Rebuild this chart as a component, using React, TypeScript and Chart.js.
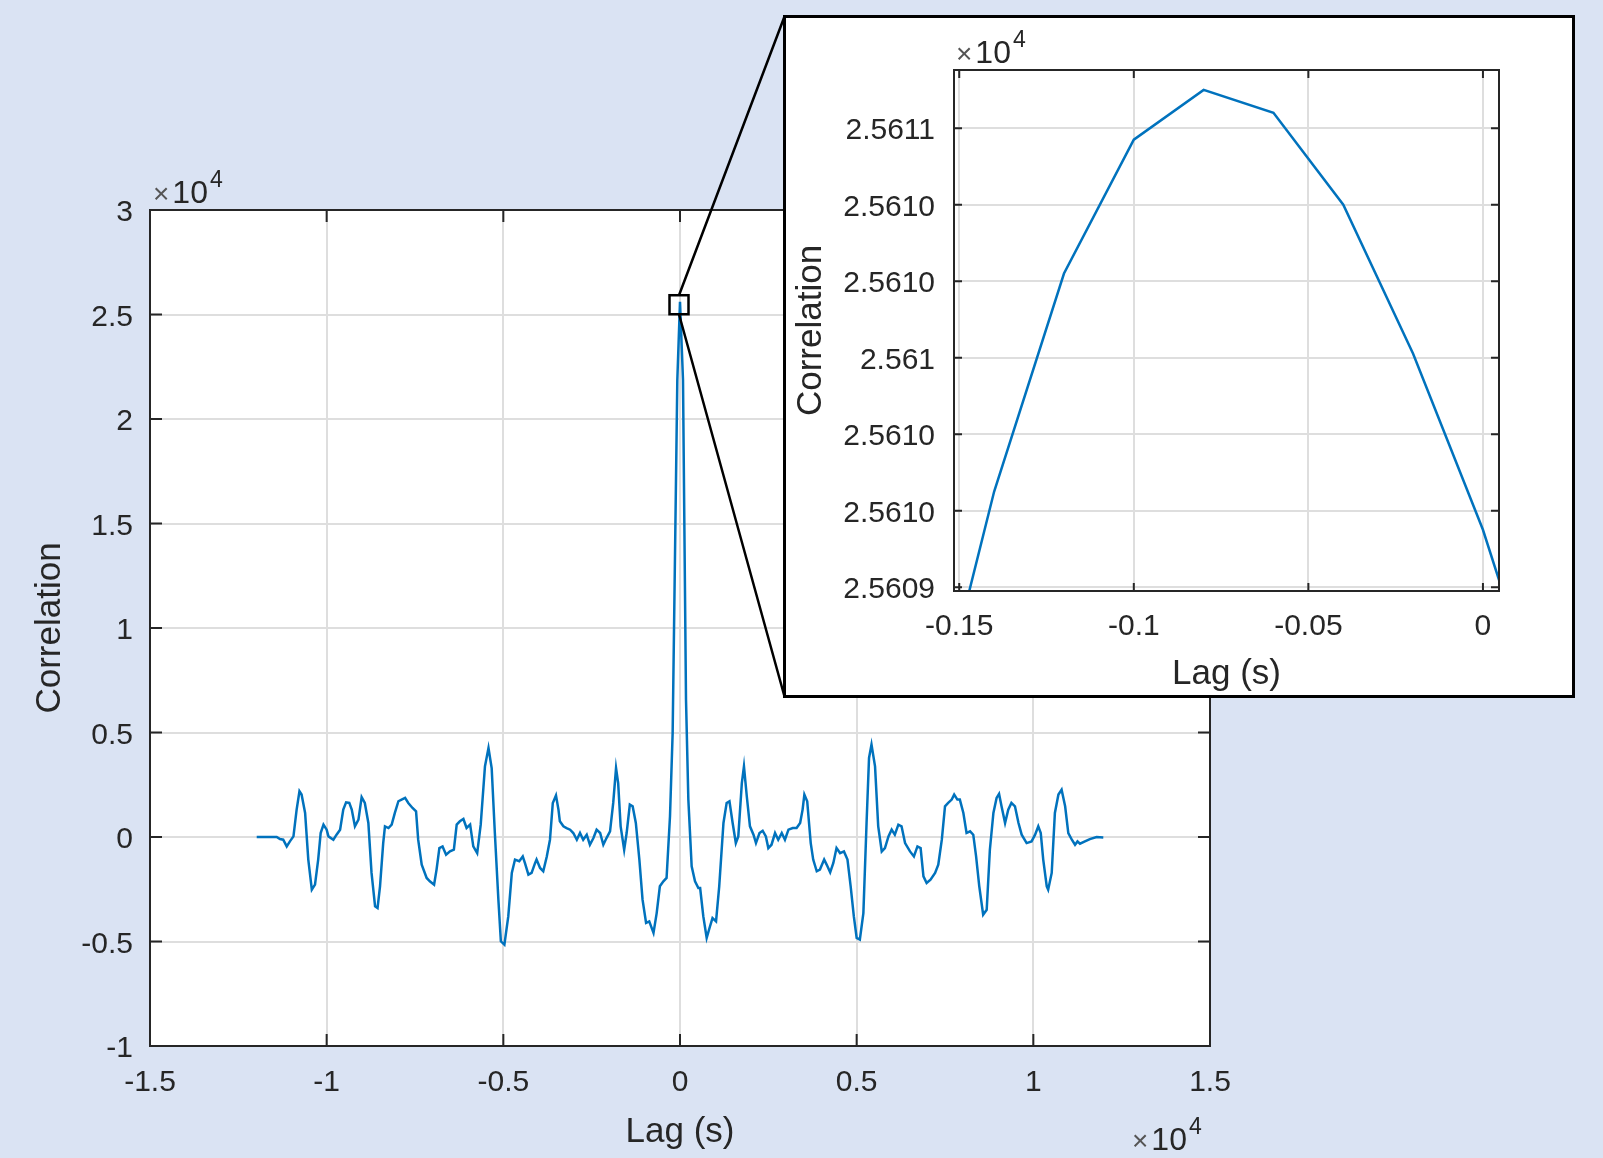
import { useEffect, useRef } from 'react';
import { Chart, registerables } from 'chart.js';

Chart.register(...registerables);

// ---------- main plot data (lag in s, correlation) ----------
const mainLag = [
  -11980, -11415, -11320, -11230, -11130, -11040, -10940, -10850, -10770, -10710,
  -10610, -10520, -10420, -10330, -10240, -10170, -10090, -10000, -9950, -9810,
  -9720, -9620, -9530, -9450, -9360, -9290, -9200, -9100, -9010, -8920,
  -8820, -8730, -8630, -8560, -8490, -8400, -8350, -8250, -8160, -8070,
  -7970, -7880, -7780, -7690, -7570, -7470, -7410, -7310, -7170, -7080,
  -6960, -6890, -6810, -6720, -6620, -6510, -6400, -6320, -6230, -6130,
  -6040, -5940, -5850, -5740, -5640, -5520, -5420, -5330, -5240, -5140,
  -5070, -4970, -4860, -4760, -4670, -4550, -4450, -4390, -4290, -4200,
  -4100, -4060, -3960, -3870, -3770, -3680, -3600, -3510, -3440, -3400,
  -3300, -3210, -3110, -3020, -2920, -2830, -2740, -2640, -2550, -2450,
  -2360, -2260, -2170, -2080, -1980, -1890, -1810, -1750, -1680, -1580,
  -1510, -1420, -1340, -1250, -1150, -1060, -960, -870, -750, -660,
  -570, -470, -380, -283, -208, -76, 0, 85, 170, 236,
  330, 425, 520, 570, 660, 755, 850, 920, 1020, 1110,
  1230, 1320, 1400, 1490, 1580, 1650, 1750, 1810, 1890, 1980,
  2080, 2150, 2250, 2340, 2430, 2500, 2590, 2690, 2780, 2880,
  2970, 3070, 3190, 3300, 3400, 3470, 3520, 3600, 3700, 3770,
  3870, 3960, 4080, 4150, 4250, 4340, 4430, 4530, 4640, 4740,
  4830, 4920, 5000, 5090, 5190, 5280, 5350, 5420, 5520, 5610,
  5710, 5800, 5900, 5990, 6080, 6180, 6270, 6370, 6510, 6620,
  6720, 6810, 6890, 6980, 7090, 7220, 7310, 7410, 7500, 7590,
  7690, 7760, 7850, 7920, 8020, 8110, 8210, 8300, 8380, 8470,
  8580, 8680, 8770, 8870, 8960, 9030, 9100, 9200, 9290, 9380,
  9480, 9580, 9670, 9810, 9950, 10050, 10140, 10210, 10280, 10380,
  10420, 10520, 10610, 10710, 10800, 10900, 10990, 11090, 11180, 11250,
  11320, 11460, 11600, 11790, 11980,
];
const mainCorr = [
  0, 0, -100, -130, -450, -210, 30, 1310, 2190, 2030,
  1150, -1080, -2520, -2280, -1080, 190, 590, 350, 30, -130,
  110, 350, 1310, 1660, 1630, 1310, 510, 830, 1910, 1630,
  670, -1720, -3320, -3400, -2360, -290, 510, 430, 590, 1150,
  1710, 1790, 1870, 1630, 1390, 1230, -130, -1320, -1960, -2120,
  -2280, -1560, -530, -450, -850, -690, -610, 590, 750, 860,
  430, 590, -450, -770, 590, 3380, 4260, 3300, 190, -3000,
  -4990, -5150, -3800, -1720, -1080, -1160, -930, -1240, -1800, -1720,
  -1240, -1080, -1480, -1640, -930, -130, 1630, 1990, 1310, 750,
  510, 430, 350, 190, -130, 190, -130, 110, -370, -50,
  350, 190, -370, -50, 270, 1630, 3300, 2580, 510, -610,
  190, 1550, 1470, 670, -1080, -3000, -4110, -4040, -4590, -3640,
  -2360, -2120, -1960, 990, 4980, 21870, 25610.7, 21870, 6570, 1800,
  -1400, -2120, -2440, -2440, -3800, -4830, -4270, -3880, -4040, -2360,
  670, 1630, 1710, 670, -290, 30, 2580, 3380, 1950, 510,
  110, -290, 190, 300, 30, -530, -370, 190, -130, 190,
  -130, 350, 430, 430, 670, 1310, 2030, 1710, -290, -1080,
  -1640, -1560, -1080, -1320, -1690, -1240, -530, -770, -690, -1080,
  -2360, -3800, -4830, -4910, -3640, 670, 3780, 4420, 3380, 510,
  -690, -530, 30, 350, 110, 590, 510, -290, -690, -930,
  -450, -530, -1880, -2200, -2040, -1720, -1320, -130, 1470, 1630,
  1790, 2030, 1790, 1790, 1150, 190, 270, 110, -930, -2360,
  -3720, -3480, -610, 1150, 1870, 2060, 1470, 670, 1310, 1630,
  1470, 670, 110, -290, -210, 110, 510, 190, -1080, -2360,
  -2520, -1720, 1150, 2030, 2260, 1470, 190, -130, -370, -210,
  -320, -210, -100, 0, -20,
];
const mainXTicks = [-15000, -10000, -5000, 0, 5000, 10000, 15000];
const mainXTickLabels = ['-1.5', '-1', '-0.5', '0', '0.5', '1', '1.5'];
const mainYTicks = [-10000, -5000, 0, 5000, 10000, 15000, 20000, 25000, 30000];
const mainYTickLabels = ['-1', '-0.5', '0', '0.5', '1', '1.5', '2', '2.5', '3'];

// ---------- zoomed inset data ----------
const zoomLag = [-0.16, -0.14, -0.12, -0.1, -0.08, -0.06, -0.04, -0.02, 0, 0.02];
const zoomCorr = [
  25608.92, 25609.65, 25610.22, 25610.57, 25610.70,
  25610.64, 25610.40, 25610.01, 25609.55, 25608.98,
];
const zoomXTicks = [-0.15, -0.1, -0.05, 0];
const zoomXTickLabels = ['-0.15', '-0.1', '-0.05', '0'];
const zoomYTicks = [25609.4, 25609.6, 25609.8, 25610.0, 25610.2, 25610.4, 25610.6];
const zoomYTickLabels = ['2.5609', '2.5610', '2.5610', '2.561', '2.5610', '2.5610', '2.5611'];

const FONT = '"Liberation Sans", Arial, Helvetica, sans-serif';
const INK = '#262626';
const GRID = '#dedede';
const BLUE = '#0072bd';

function drawExponent(ctx: CanvasRenderingContext2D, x: number, baseline: number) {
  ctx.save();
  ctx.fillStyle = INK;
  ctx.textBaseline = 'alphabetic';
  ctx.textAlign = 'left';
  ctx.font = `28px ${FONT}`;
  ctx.fillStyle = '#555555';
  ctx.fillText('×', x, baseline);
  const w1 = ctx.measureText('×').width;
  ctx.fillStyle = INK;
  ctx.font = `32px ${FONT}`;
  const x2 = x + w1 + 3;
  ctx.fillText('10', x2, baseline);
  const w2 = ctx.measureText('10').width;
  ctx.font = `23px ${FONT}`;
  ctx.fillText('4', x2 + w2 + 2, baseline - 16);
  ctx.restore();
}

const whiteArea = {
  id: 'whiteArea',
  beforeDraw(chart: any) {
    const { ctx, chartArea: a } = chart;
    ctx.save();
    ctx.fillStyle = '#ffffff';
    ctx.fillRect(a.left, a.top, a.right - a.left, a.bottom - a.top);
    ctx.restore();
  },
};

const matlabBox = {
  id: 'matlabBox',
  afterDatasetsDraw(chart: any, _args: any, opts: any) {
    const { ctx, chartArea: a, scales } = chart;
    const tl = opts.tickLen;
    ctx.save();
    ctx.strokeStyle = INK;
    ctx.lineWidth = 2;
    ctx.beginPath();
    for (const t of scales.x.ticks) {
      const px = scales.x.getPixelForValue(t.value);
      ctx.moveTo(px, a.bottom);
      ctx.lineTo(px, a.bottom - tl);
      ctx.moveTo(px, a.top);
      ctx.lineTo(px, a.top + tl);
    }
    for (const t of scales.y.ticks) {
      const py = scales.y.getPixelForValue(t.value);
      ctx.moveTo(a.left, py);
      ctx.lineTo(a.left + tl, py);
      ctx.moveTo(a.right, py);
      ctx.lineTo(a.right - tl, py);
    }
    ctx.stroke();
    ctx.strokeRect(a.left, a.top, a.right - a.left, a.bottom - a.top);
    ctx.restore();
  },
};

const mainExtras = {
  id: 'mainExtras',
  afterDraw(chart: any) {
    const { ctx, chartArea: a, scales } = chart;
    // zoom marker around the peak
    let pk = 0;
    for (let i = 1; i < mainCorr.length; i++) if (mainCorr[i] > mainCorr[pk]) pk = i;
    const cx = scales.x.getPixelForValue(mainLag[pk]) - 1;
    const cy = scales.y.getPixelForValue(mainCorr[pk]) + 3;
    const h = 9.5;
    ctx.save();
    ctx.strokeStyle = '#000';
    ctx.lineWidth = 2.5;
    ctx.strokeRect(cx - h, cy - h, 2 * h, 2 * h);
    ctx.beginPath();
    ctx.moveTo(cx, cy - h);
    ctx.lineTo(784.5, 16.5);
    ctx.moveTo(cx, cy + h);
    ctx.lineTo(784.5, 696.5);
    ctx.stroke();
    ctx.restore();
    drawExponent(ctx, a.left + 3, a.top - 7);
    drawExponent(ctx, a.right - 78, a.bottom + 104);
  },
};

const zoomExtras = {
  id: 'zoomExtras',
  afterDraw(chart: any) {
    const { ctx, chartArea: a } = chart;
    drawExponent(ctx, a.left + 2, a.top - 7);
  },
};

function makeAxis(o: {
  min: number; max: number; ticks: number[]; labels: string[];
  pad: number; shift: number; title: string; titlePad: any; fit: (s: any) => void;
}) {
  return {
    type: 'linear',
    min: o.min,
    max: o.max,
    afterBuildTicks: (s: any) => {
      s.ticks = o.ticks.map((v) => ({ value: v }));
    },
    afterFit: o.fit,
    ticks: {
      autoSkip: false,
      maxRotation: 0,
      padding: o.pad,
      labelOffset: o.shift,
      color: INK,
      font: { family: FONT, size: 30 },
      callback: (_v: any, i: number) => o.labels[i],
    },
    grid: { color: GRID, lineWidth: 2, drawTicks: false },
    border: { display: false },
    title: {
      display: true,
      text: o.title,
      color: INK,
      font: { family: FONT, size: 35 },
      padding: o.titlePad,
    },
  };
}

export default function App() {
  const mainRef = useRef<HTMLCanvasElement>(null);
  const zoomRef = useRef<HTMLCanvasElement>(null);

  useEffect(() => {
    const main = new Chart(mainRef.current as HTMLCanvasElement, {
      type: 'line',
      data: {
        datasets: [
          {
            data: mainLag.map((x, i) => ({ x, y: mainCorr[i] })),
            borderColor: BLUE,
            borderWidth: 2.5,
            pointRadius: 0,
            tension: 0,
            fill: false,
          },
        ],
      },
      options: {
        responsive: false,
        animation: false,
        devicePixelRatio: 1,
        layout: { padding: { left: 0, top: 210, right: 393, bottom: 0 } },
        plugins: {
          legend: { display: false },
          tooltip: { enabled: false },
          matlabBox: { tickLen: 12 },
        } as any,
        scales: {
          x: makeAxis({
            min: -15000, max: 15000, ticks: mainXTicks, labels: mainXTickLabels,
            pad: 19, shift: 0, title: 'Lag (s)', titlePad: { top: 0, bottom: 5 },
            fit: (s: any) => { s.height = 112; },
          }),
          y: makeAxis({
            min: -10000, max: 30000, ticks: mainYTicks, labels: mainYTickLabels,
            pad: 17, shift: 3, title: 'Correlation', titlePad: { top: 29, bottom: 0 },
            fit: (s: any) => { s.width = 150; },
          }),
        } as any,
      },
      plugins: [whiteArea, matlabBox, mainExtras],
    } as any);

    const zoom = new Chart(zoomRef.current as HTMLCanvasElement, {
      type: 'line',
      data: {
        datasets: [
          {
            data: zoomLag.map((x, i) => ({ x, y: zoomCorr[i] })),
            borderColor: BLUE,
            borderWidth: 2.5,
            pointRadius: 0,
            tension: 0,
            fill: false,
          },
        ],
      },
      options: {
        responsive: false,
        animation: false,
        devicePixelRatio: 1,
        layout: { padding: { left: 0, top: 52, right: 73, bottom: 0 } },
        plugins: {
          legend: { display: false },
          tooltip: { enabled: false },
          matlabBox: { tickLen: 8 },
        } as any,
        scales: {
          x: makeAxis({
            min: -0.1515, max: 0.0046, ticks: zoomXTicks, labels: zoomXTickLabels,
            pad: 18, shift: 0, title: 'Lag (s)', titlePad: { top: 0, bottom: 0 },
            fit: (s: any) => { s.height = 104; },
          }),
          y: makeAxis({
            min: 25609.39, max: 25610.752, ticks: zoomYTicks, labels: zoomYTickLabels,
            pad: 19, shift: 3, title: 'Correlation', titlePad: { top: 4, bottom: 0 },
            fit: (s: any) => { s.width = 168; },
          }),
        } as any,
      },
      plugins: [whiteArea, matlabBox, zoomExtras],
    } as any);

    return () => {
      main.destroy();
      zoom.destroy();
    };
  }, []);

  return (
    <div
      style={{
        position: 'fixed', left: 0, top: 0, width: 1603, height: 1158,
        background: '#dae3f3', overflow: 'hidden',
      }}
    >
      <canvas
        ref={mainRef}
        width={1603}
        height={1158}
        style={{ position: 'absolute', left: 0, top: 0, width: 1603, height: 1158 }}
      />
      <div
        style={{
          position: 'absolute', left: 783, top: 15, width: 792, height: 683,
          border: '3px solid #000', boxSizing: 'border-box', background: '#fff',
        }}
      >
        <canvas
          ref={zoomRef}
          width={786}
          height={677}
          style={{ display: 'block', width: 786, height: 677 }}
        />
      </div>
    </div>
  );
}
